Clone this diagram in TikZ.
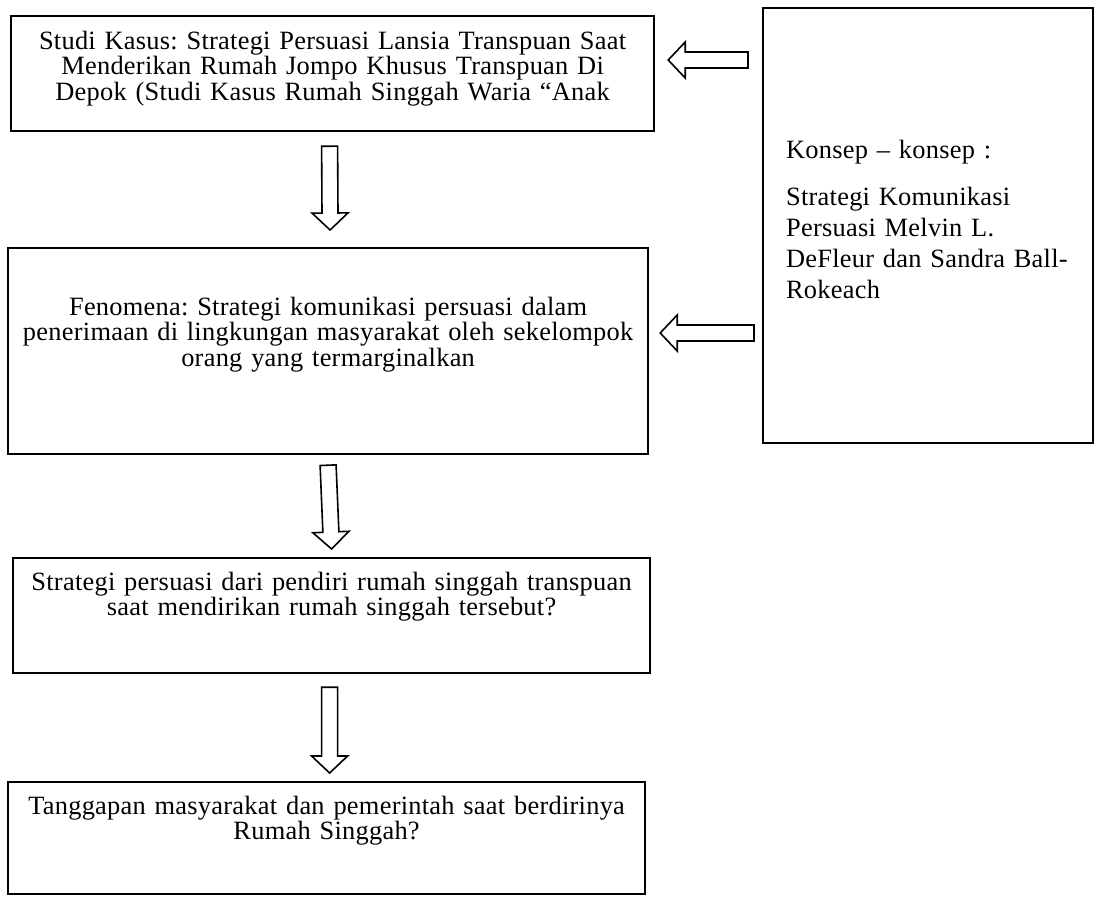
\documentclass[tikz,border=0pt]{standalone}
\usepackage{fontspec}
\setmainfont{Liberation Serif}[WordSpace=0.7, LetterSpace=1]
\usepackage{tikz}
\usetikzlibrary{calc}

\begin{document}
\begin{tikzpicture}[x=0.5pt, y=-0.5pt,
  box/.style={draw, line width=1.1pt, anchor=north west, inner xsep=0pt, inner ysep=0pt,
    align=center, font=\frenchspacing\fontsize{13.2}{12.8}\selectfont},
  hollow/.style={draw, line width=0.8pt, line join=miter, to path={
    let \p1=(\tikztostart), \p2=(\tikztotarget), \p3=($(\p2)!8.5pt!(\p1)$) in
    ($(\p1)!4pt!90:(\p2)$) -- ($(\p3)!4pt!-90:(\p1)$) -- ($(\p3)!9pt!-90:(\p1)$) -- (\p2)
    -- ($(\p3)!9pt!90:(\p1)$) -- ($(\p3)!4pt!90:(\p1)$) -- ($(\p1)!4pt!-90:(\p2)$) -- cycle}}]
\useasboundingbox (0,0) rectangle (1099,896);

\node (kasus) [box, text width=321.5pt, text height=16.5pt, text depth=41pt] at (10,15)
  {Studi Kasus: Strategi Persuasi Lansia Transpuan Saat\\
   Menderikan Rumah Jompo Khusus Transpuan Di\\
   Depok (Studi Kasus Rumah Singgah Waria “Anak};
\node (konsep) [box, align=left, inner xsep=11.5pt, text width=142pt, text height=75pt, text depth=142.5pt,
  font=\frenchspacing\fontsize{13.2}{15.5}\selectfont] at (762,7)
  {Konsep – konsep :\\[8pt]
   Strategi Komunikasi\\
   Persuasi Melvin L.\\
   \mbox{DeFleur dan Sandra Ball-}\\
   Rokeach};
\node (fenomena) [box, text width=320pt, text height=33.5pt, text depth=69.5pt] at (7,247)
  {Fenomena: Strategi komunikasi persuasi dalam\\
   penerimaan di lingkungan masyarakat oleh sekelompok\\
   orang yang termarginalkan};
\node (rumusan) [box, text width=318.5pt, text height=16pt, text depth=41.5pt] at (12,557)
  {Strategi persuasi dari pendiri rumah singgah transpuan\\
   saat mendirikan rumah singgah tersebut?};
\node (tanggapan) [box, text width=318.5pt, text height=16pt, text depth=40pt] at (7,781)
  {Tanggapan masyarakat dan pemerintah saat berdirinya\\
   Rumah Singgah?};

% panah turun
\draw[hollow] ($(kasus.south)+(-1.5pt,-7pt)$) to ($(fenomena.north)+(1pt,8.5pt)$);
\draw[hollow] ($(fenomena.south)+(0pt,-5pt)$) to ($(rumusan.north)+(0pt,4pt)$);
\draw[hollow] ($(rumusan.south)+(-1pt,-6.5pt)$) to ($(tanggapan.north)+(1.5pt,4pt)$);
% panah dari konsep
\draw[hollow] ($(konsep.west |- 0,60)+(-7pt,0pt)$) to ($(kasus.east |- 0,60)+(6.5pt,0pt)$);
\draw[hollow] ($(konsep.west |- 0,333)+(-4pt,0pt)$) to ($(fenomena.east |- 0,333)+(5.5pt,0pt)$);
\end{tikzpicture}
\end{document}
